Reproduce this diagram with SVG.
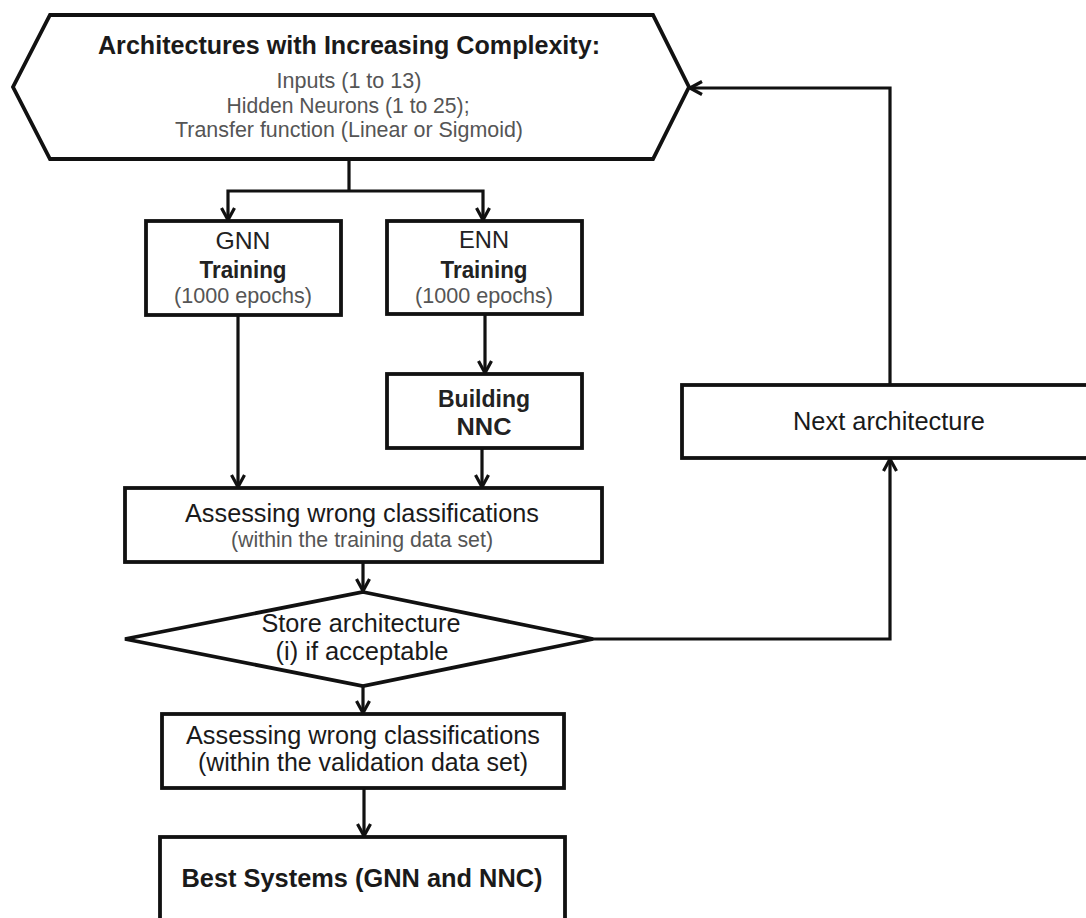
<svg xmlns="http://www.w3.org/2000/svg" width="1086" height="918" viewBox="0 0 1086 918">
<style>
.shape{fill:#fff;stroke:#111;stroke-width:3.8;stroke-linejoin:miter}
.con{fill:none;stroke:#111;stroke-width:3.2;marker-end:url(#arr)}
.plain{fill:none;stroke:#111;stroke-width:3.2}
text{font-family:"Liberation Sans",Arial,sans-serif;text-anchor:middle}
.t{fill:#1a1a1a;font-size:25px}
.b{fill:#1a1a1a;font-size:26px;font-weight:bold}
.s{fill:#555;font-size:22px}
.g{fill:#222;font-size:24px}
.gb{fill:#222;font-size:24px;font-weight:bold}
</style>
<defs>
<marker id="arr" viewBox="0 0 18 16" refX="15" refY="8" markerWidth="18" markerHeight="16" markerUnits="userSpaceOnUse" orient="auto">
<path d="M3,1.5 L15,8 L3,14.5" fill="none" stroke="#111" stroke-width="3.2" stroke-linejoin="round"/>
</marker>
</defs>
<rect width="1086" height="918" fill="#fff"/>
<g id="connectors">
<path class="plain" d="M349,159 V191"/>
<path class="con" d="M349,191 H228 V220"/>
<path class="con" d="M349,191 H483 V220"/>
<path class="con" d="M238,315 V487"/>
<path class="con" d="M485,314 V373"/>
<path class="con" d="M482,448 V487"/>
<path class="con" d="M363,562 V591"/>
<path class="con" d="M363,686 V713"/>
<path class="con" d="M364,788 V836"/>
<path class="con" d="M593,639 H890 V459"/>
<path class="con" d="M890,385 V88 H690"/>
</g>
<g id="architectures">
<polygon class="shape" points="50,15 653,15 689,87 653,159 50,159 13,87"/>
<text class="b" x="349" y="54" textLength="502" lengthAdjust="spacingAndGlyphs">Architectures with Increasing Complexity:</text>
<text class="s" x="349" y="88" textLength="145" lengthAdjust="spacingAndGlyphs">Inputs (1 to 13)</text>
<text class="s" x="348" y="113" textLength="243" lengthAdjust="spacingAndGlyphs">Hidden Neurons (1 to 25);</text>
<text class="s" x="349" y="137" textLength="348" lengthAdjust="spacingAndGlyphs">Transfer function (Linear or Sigmoid)</text>
</g>
<g id="gnn">
<rect class="shape" x="146" y="221" width="195" height="94"/>
<text class="g" x="243" y="249" textLength="55" lengthAdjust="spacingAndGlyphs">GNN</text>
<text class="gb" x="243" y="278" textLength="87" lengthAdjust="spacingAndGlyphs">Training</text>
<text class="s" x="243" y="303" font-size="21" textLength="138" lengthAdjust="spacingAndGlyphs">(1000 epochs)</text>
</g>
<g id="enn">
<rect class="shape" x="387" y="221" width="195" height="93"/>
<text class="g" x="484" y="248" textLength="50" lengthAdjust="spacingAndGlyphs">ENN</text>
<text class="gb" x="484" y="278" textLength="87" lengthAdjust="spacingAndGlyphs">Training</text>
<text class="s" x="484" y="303" font-size="21" textLength="138" lengthAdjust="spacingAndGlyphs">(1000 epochs)</text>
</g>
<g id="building">
<rect class="shape" x="387" y="374" width="195" height="74"/>
<text class="gb" x="484" y="407" textLength="92" lengthAdjust="spacingAndGlyphs">Building</text>
<text class="gb" x="484" y="435" textLength="55" lengthAdjust="spacingAndGlyphs">NNC</text>
</g>
<g id="assess-training">
<rect class="shape" x="125" y="488" width="477" height="74"/>
<text class="t" x="362" y="522" textLength="354" lengthAdjust="spacingAndGlyphs">Assessing wrong classifications</text>
<text class="s" x="362" y="547" textLength="262" lengthAdjust="spacingAndGlyphs">(within the training data set)</text>
</g>
<g id="store">
<polygon class="shape" points="363,592 593,639 363,686 125,639"/>
<text class="t" x="361" y="632" textLength="199" lengthAdjust="spacingAndGlyphs">Store architecture</text>
<text class="t" x="362" y="660" textLength="173" lengthAdjust="spacingAndGlyphs">(i) if acceptable</text>
</g>
<g id="assess-validation">
<rect class="shape" x="162" y="714" width="402" height="74"/>
<text class="t" x="363" y="744" font-size="23" textLength="354" lengthAdjust="spacingAndGlyphs">Assessing wrong classifications</text>
<text class="t" x="363" y="771" font-size="23" fill="#333" textLength="330" lengthAdjust="spacingAndGlyphs">(within the validation data set)</text>
</g>
<g id="best">
<rect class="shape" x="160" y="837" width="405" height="110"/>
<text class="b" x="362" y="887" textLength="361" lengthAdjust="spacingAndGlyphs">Best  Systems (GNN and NNC)</text>
</g>
<g id="next">
<rect class="shape" x="682" y="385" width="414" height="73"/>
<text class="t" x="889" y="430" fill="#333" textLength="192" lengthAdjust="spacingAndGlyphs">Next architecture</text>
</g>
</svg>
